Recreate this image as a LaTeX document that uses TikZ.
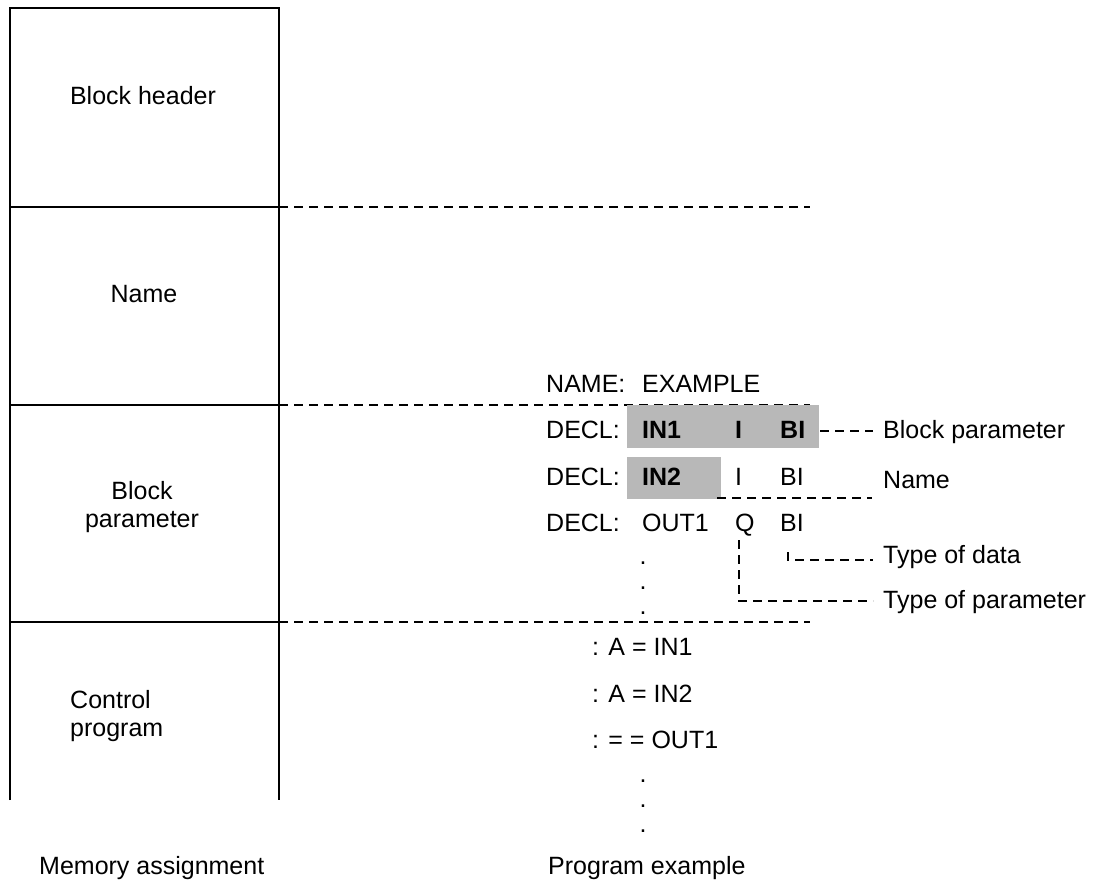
\documentclass[tikz,border=0pt]{standalone}
\usepackage{fontspec}
\setmainfont{Liberation Sans}

\tikzstyle{txt}=[inner sep=0pt, anchor=base west]
\tikzstyle{mid}=[inner sep=0pt, anchor=base]
\tikzstyle{bright}=[fill=black!28, inner sep=0pt, anchor=north west]
\tikzstyle{boxLine}=[line width=2pt]
\tikzstyle{dashLine}=[line width=1.5pt, dash pattern=on 9pt off 6pt]

\begin{document}
\begin{tikzpicture}[x=1pt, y=-1pt, font=\fontsize{25}{28.5}\selectfont]
	\useasboundingbox (0,0) rectangle (1102,893);

	% Speicherbelegung
	\coordinate (tl) at (10,8);
	\coordinate (tr) at (279,8);
	\coordinate (bl) at (10,800);
	\coordinate (br) at (279,800);
	\draw[boxLine] (bl) -- (tl) -- (tr) -- (br);
	\foreach \y [count=\i] in {207,405,622}
		{
			\coordinate (l\i) at (10,\y);
			\coordinate (r\i) at (279,\y);
			\coordinate (e\i) at (810,\y);
			\draw[boxLine] (l\i) -- (r\i);
			\draw[dashLine] (r\i) -- (e\i);
		}

	\node(hdr) at (143,105) [mid] {Block header};
	\node(nam) at (144,302) [mid] {Name};
	\node(par) at (142,507) [inner sep=0pt, align=center] {Block\\parameter};
	\node(prg) at (70,716) [inner sep=0pt, anchor=west, align=left] {Control\\program};
	\node(mem) at (39,874) [txt] {Memory assignment};

	% Programmbeispiel
	\node(sh1) at (627,405) [bright, minimum width=192pt, minimum height=43pt] {};
	\node(sh2) at (627,457) [bright, minimum width=94pt, minimum height=42pt] {};

	\node(nm) at (546,392) [txt] {NAME:};
	\node(ex) at (642,392) [txt] {EXAMPLE};

	\node(d1) at (546,438) [txt] {DECL:};
	\node(in1) at (642,438) [txt] {\bfseries IN1};
	\node(i1) at (735,438) [txt] {\bfseries I};
	\node(b1) at (780,438) [txt] {\bfseries BI};

	\node(d2) at (546,485) [txt] {DECL:};
	\node(in2) at (642,485) [txt] {\bfseries IN2};
	\node(i2) at (735,485) [txt] {I};
	\node(b2) at (780,485) [txt] {BI};

	\node(d3) at (546,531) [txt] {DECL:};
	\node(out) at (642,531) [txt] {OUT1};
	\node(q3) at (735,531) [txt] {Q};
	\node(b3) at (780,531) [txt] {BI};

	\foreach \y [count=\i] in {564,589,614}
		\node(p\i) at (643,\y) [mid] {.};

	\node(s1) at (592,655) [txt] {: A = IN1};
	\node(s2) at (592,702) [txt] {: A = IN2};
	\node(s3) at (592,748) [txt] {: = = OUT1};
	\foreach \y [count=\i] in {782,807,832}
		\node(q\i) at (643,\y) [mid] {.};
	\node(pex) at (548,874) [txt] {Program example};

	% Beschriftung rechts
	\node(lbp) at (883,438) [txt] {Block parameter};
	\node(lnm) at (883,488) [txt] {Name};
	\node(ltd) at (883,563) [txt] {Type of data};
	\node(ltp) at (883,608) [txt] {Type of parameter};

	\coordinate (a1) at (820,431);
	\coordinate (c1) at (873,431);
	\coordinate (a2) at (717,498);
	\coordinate (c2) at (872,498);
	\coordinate (a3) at (788,552);
	\coordinate (k3) at (788,560);
	\coordinate (c3) at (873,560);
	\coordinate (a4) at (739,540);
	\coordinate (k4) at (739,601);
	\coordinate (c4) at (873,601);
	\draw[dashLine] (a1) -- (c1);
	\draw[dashLine] (a2) -- (c2);
	\draw[dashLine] (a3) -- (k3) -- (c3);
	\draw[dashLine] (a4) -- (k4) -- (c4);

\end{tikzpicture}
\end{document}
